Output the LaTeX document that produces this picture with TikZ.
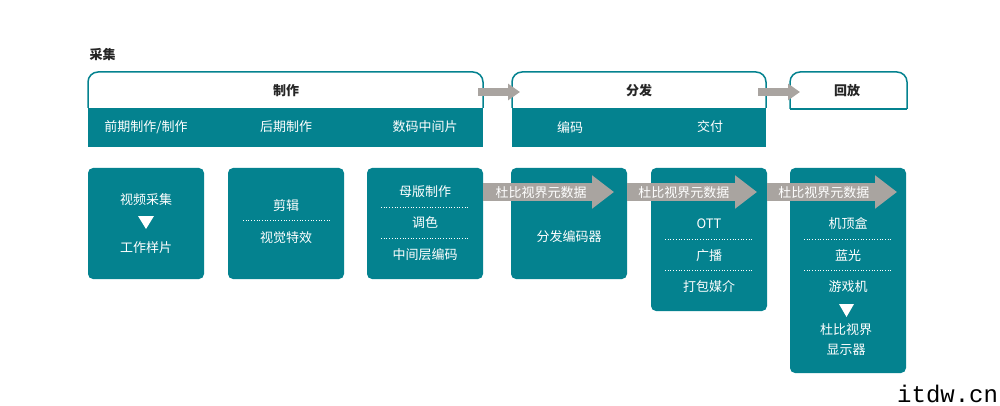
\documentclass[tikz,border=0pt]{standalone}
\usepackage{fontspec}
\setmainfont{Noto Sans CJK SC}
\newfontfamily\markfont{Liberation Mono}
\usetikzlibrary{arrows.meta}
\definecolor{tealbox}{HTML}{04828F}
\definecolor{greyarrow}{HTML}{A9A4A0}
\definecolor{headink}{HTML}{262626}
\tikzset{
  panel/.style={fill=tealbox,rounded corners=5pt,minimum width=116pt,inner sep=0pt},
  band/.style={fill=tealbox,minimum height=38.5pt,inner sep=0pt},
  head/.style={draw=tealbox,line width=1.5pt,rounded corners=10pt},
  label/.style={text=white,font=\fontsize{13}{15}\selectfont,inner sep=0pt,yshift=-1pt},
  title/.style={text=headink,font=\fontsize{13}{15}\selectfont\bfseries,inner sep=0pt,yshift=-1pt},
  sep/.style={white,line width=.7pt,dotted},
  thinarrow/.style={draw=greyarrow,line width=7.5pt,-{Triangle[length=12pt,width=16pt]}},
  widearrow/.style={draw=greyarrow,line width=17.5pt,-{Triangle[length=22pt,width=32pt]}},
  downmark/.style={fill=white}
}
\begin{document}
\begin{tikzpicture}[x=1pt,y=-1pt]

        \useasboundingbox (0,0) rectangle (1000,406);

        % top row
        \draw[head] (88,108) |- (483,72) -- (483,108);
        \draw[head] (512,108) |- (766,72) -- (766,108);
        \draw[head,sharp corners] (790,109) -- (907,109);
        \draw[head] (790,109) |- (907,72) -- (907,109);

        \begin{scope}[every node/.style={band}]
          \node[minimum width=395pt] (b1) at (285.5,127.5) {};
          \node[minimum width=254pt] (b2) at (639,127.5) {};
        \end{scope}

        \coordinate (s1) at (478,92);
        \coordinate (e1) at (520,92);
        \coordinate (s2) at (758,92);
        \coordinate (e2) at (800,92);

        \begin{scope}[every edge/.style={thinarrow}]
          \path (s1) edge (e1);
          \path (s2) edge (e2);
        \end{scope}

        % lower panels
        \begin{scope}[every node/.style={panel}]
          \node[minimum height=111pt] (p1) at (146,223.5) {};
          \node[minimum height=111pt] (p2) at (286,223.5) {};
          \node[minimum height=111pt] (p3) at (425,223.5) {};
          \node[minimum height=111pt] (p4) at (569,223.5) {};
          \node[minimum height=143pt] (p5) at (709,239.5) {};
          \node[minimum height=205pt] (p6) at (848,270.5) {};
        \end{scope}

        \coordinate (m1) at (483,192);
        \coordinate (t1) at (614,192);
        \coordinate (m2) at (627,192);
        \coordinate (t2) at (757,192);
        \coordinate (m3) at (767,192);
        \coordinate (t3) at (897,192);

        \begin{scope}[every node/.style={label}]

          \begin{scope}[every edge/.style={widearrow}]
            \path (m1) edge node[pos=.443] (a1) {杜比视界元数据} (t1);
            \path (m2) edge node[pos=.438] (a2) {杜比视界元数据} (t2);
            \path (m3) edge node[pos=.438] (a3) {杜比视界元数据} (t3);
          \end{scope}

          \node (l1)  at (146,126) {前期制作/制作};
          \node (l2)  at (286,126) {后期制作};
          \node (l3)  at (425,126) {数码中间片};
          \node (l4)  at (570,126) {编码};
          \node (l5)  at (710,126) {交付};

          \node (n1)  at (146,199) {视频采集};
          \node (n2)  at (146,247) {工作样片};
          \node (n3)  at (286,205) {剪辑};
          \node (n4)  at (286,237) {视觉特效};
          \node (n5)  at (425,191) {母版制作};
          \node (n6)  at (425,222) {调色};
          \node (n7)  at (425,254) {中间层编码};
          \node (n8)  at (569,236) {分发编码器};
          \node (n9)  at (709,223) {OTT};
          \node (n10) at (709,255) {广播};
          \node (n11) at (709,286) {打包媒介};
          \node (n12) at (848,223) {机顶盒};
          \node (n13) at (848,255) {蓝光};
          \node (n14) at (848,286) {游戏机};
          \node (n15) at (846,329) {杜比视界};
          \node (n16) at (846,349) {显示器};
        \end{scope}

        \begin{scope}[every node/.style={title}]
          \node (t0)  at (102.5,54) {采集};
          \node (h1)  at (286,90) {制作};
          \node (h2)  at (639,90) {分发};
          \node (h3)  at (847,90) {回放};
        \end{scope}

        % dotted rules
        \draw[sep] (243,220) -- (332,220);
        \draw[sep] (381,207) -- (469,207);
        \draw[sep] (381,238) -- (469,238);
        \draw[sep] (665,239) -- (753,239);
        \draw[sep] (665,270) -- (753,270);
        \draw[sep] (804,239) -- (892,239);
        \draw[sep] (804,270) -- (892,270);

        % white pointers
        \fill[downmark] (138,216) -- (154,216) -- (146,229) -- cycle;
        \fill[downmark] (839,304) -- (854,304) -- (846.5,317) -- cycle;

        \node[text=black,font=\markfont\fontsize{24}{26}\selectfont,anchor=base west,inner sep=0pt] (wm) at (897,402) {itdw.cn};

      \end{tikzpicture}
\end{document}
